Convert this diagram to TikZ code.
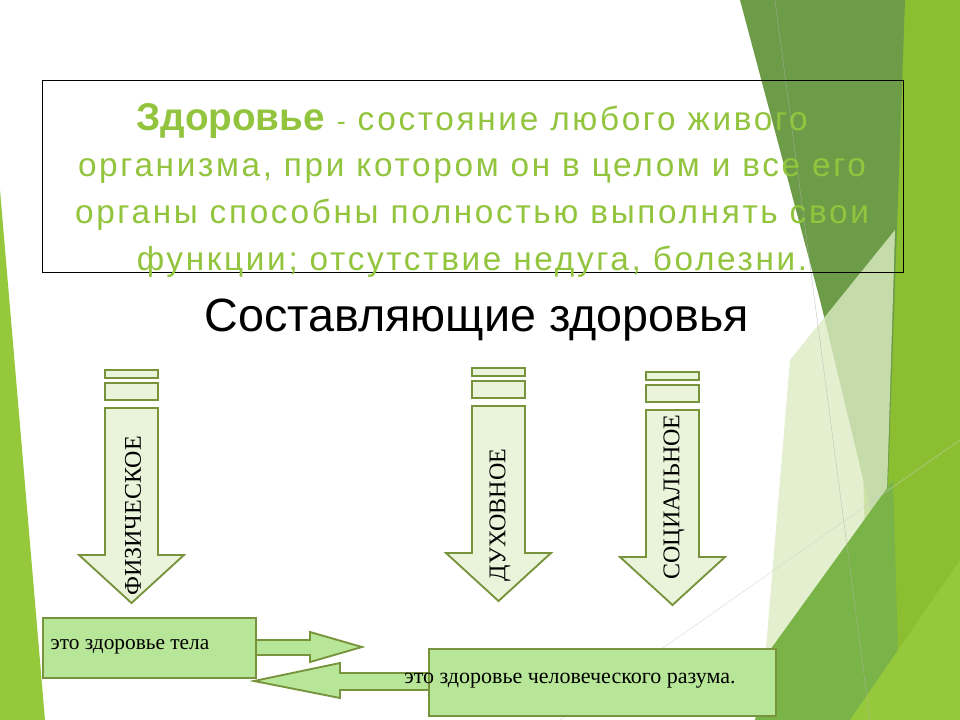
\documentclass[tikz,border=0pt]{standalone}
\usepackage{fontspec}
\setmainfont{Liberation Serif}
\newfontfamily\sansf{Liberation Sans}
\newfontfamily\sansw[LetterSpace=8]{Liberation Sans}
\usetikzlibrary{positioning}
\definecolor{olive}{RGB}{119,147,60}
\definecolor{boxgreen}{RGB}{184,230,152}
\definecolor{pale}{RGB}{234,244,218}
\definecolor{titlegreen}{RGB}{146,196,62}
\definecolor{bgA}{RGB}{140,190,50}
\definecolor{bgB}{RGB}{108,156,72}
\definecolor{bgC}{RGB}{220,235,195}
\definecolor{bgD}{RGB}{122,180,72}
\definecolor{bgE}{RGB}{150,200,60}
\tikzset{downarrow/.style={draw=olive,line width=1.4pt,fill=pale},
         sidearrow/.style={draw=olive,line width=1.4pt,fill=boxgreen},
         notebox/.style={draw=olive,line width=1.4pt,fill=boxgreen,anchor=north west,inner sep=0pt},
         vlabel/.style={rotate=90,font=\fontsize{18}{18}\selectfont}}
\begin{document}
\begin{tikzpicture}[x=0.75pt,y=-0.75pt]
        \useasboundingbox (0,0) rectangle (960,720);
        % background
        \fill[white](0,0)rectangle(960,720);
        \fill[bgA](850,0)--(960,0)--(960,720)--(870,720)--cycle;
        \fill[bgB](740,0)--(905,0)--(885,570)--(820,300)--cycle;
        \fill[bgC,opacity=0.8](790,360)--(895,230)--(880,720)--(760,720)--cycle;
        \fill[bgD](770,650)--(893,480)--(900,720)--(755,720)--cycle;
        \fill[bgE](850,720)--(960,560)--(960,720)--cycle;
        \fill[bgE](0,190)--(45,720)--(0,720)--cycle;
        \draw[gray!60,very thin](775,0)--(870,720);
        \draw[gray!40,very thin](560,720)--(960,440);

        % definition
        \draw[thin](42,80)rectangle(903,272);
        \node[font=\sansw\fontsize{25}{35}\selectfont,text=titlegreen,align=center,inner sep=0pt](def)at(472,190)
          {{\sansf\bfseries\fontsize{29}{29}\selectfont Здоровье}\ {\fontsize{20}{20}\selectfont -} состояние любого живого\\
           организма, при котором он в целом и все его\\
           органы способны полностью выполнять свои\\
           функции; отсутствие недуга, болезни.};
        \node[font=\sansf\fontsize{35}{35}\selectfont](head)at(477,320){Составляющие здоровья};

        % down arrows
        \foreach \x/\t in {105/370,472/368,646/372}{
          \draw[downarrow](\x,\t)rectangle(\x+53,\t+8);
          \draw[downarrow](\x,\t+13)rectangle(\x+53,\t+30);
          \draw[downarrow](\x,\t+38)--(\x+53,\t+38)--(\x+53,\t+185)--(\x+79,\t+185)
             --(\x+26.5,\t+233)--(\x-26,\t+185)--(\x,\t+185)--cycle;
        }
        \node[vlabel](fiz)at(133,516){ФИЗИЧЕСКОЕ};
        \node[vlabel](duh)at(500,515){ДУХОВНОЕ};
        \node[vlabel](soc)at(674,497){СОЦИАЛЬНОЕ};

        % bottom notes
        \draw[sidearrow](250,640)--(310,640)--(310,632)--(362,647)--(310,662)--(310,655)--(250,655)--cycle;
        \draw[sidearrow](433,673)--(340,673)--(340,663)--(254,681)--(340,698)--(340,690)--(433,690)--cycle;
        \node[notebox,minimum width=160pt,minimum height=45pt](body)at(42,617){};
        \node[font=\fontsize{16}{16}\selectfont,anchor=west](bodyt)at(46,647){это здоровье тела};
        \node[notebox,minimum width=260pt,minimum height=50pt](mind)at(428,648){};
        \node[font=\fontsize{16.5}{16}\selectfont](mindt)at(570,681){это здоровье человеческого разума.};
    \end{tikzpicture}
\end{document}
